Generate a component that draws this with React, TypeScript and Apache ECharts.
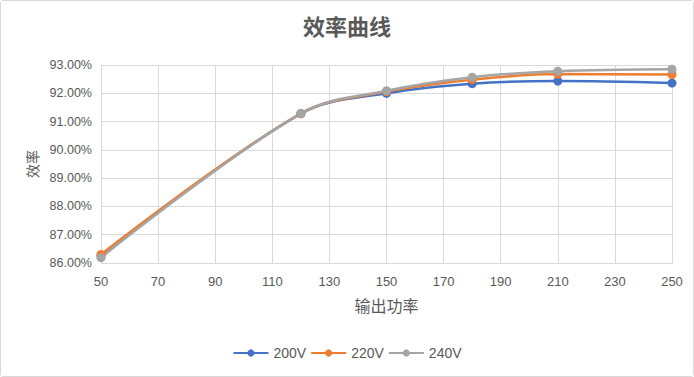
import React, { useEffect, useRef } from "react";
import * as echarts from "echarts";

const xValues = [50, 120, 150, 180, 210, 250];
const v200 = [86.25, 91.28, 92.0, 92.34, 92.43, 92.36];
const v220 = [86.3, 91.28, 92.06, 92.48, 92.68, 92.66];
const v240 = [86.19, 91.29, 92.09, 92.57, 92.78, 92.85];
const xTicks = [50, 70, 90, 110, 130, 150, 170, 190, 210, 230, 250];
const seriesNames = ["200V", "220V", "240V"];
const colors = ["#4472C4", "#ED7D31", "#A5A5A5"];

const FONT = "'Liberation Sans', 'Noto Sans CJK SC', sans-serif";
const CJK = "'Noto Sans CJK SC', sans-serif";

export default function App() {
  const ref = useRef<HTMLDivElement>(null);
  useEffect(() => {
    if (!ref.current) return;
    const chart = echarts.init(ref.current, null, { renderer: "svg" });
    const all = [v200, v220, v240];
    chart.setOption({
      animation: false,
      backgroundColor: "#ffffff",
      title: {
        text: "效率曲线",
        left: "center",
        top: 8,
        textStyle: { fontFamily: CJK, fontSize: 22, fontWeight: "bold", color: "#595959" },
      },
      legend: {
        bottom: 11,
        left: "center",
        itemWidth: 35,
        itemHeight: 9,
        itemGap: 4,
        data: seriesNames,
        textStyle: { fontFamily: FONT, fontSize: 14, color: "#595959" },
      },
      grid: { left: 100, right: 21, top: 64, bottom: 113, containLabel: false },
      xAxis: {
        type: "value",
        min: 50,
        max: 250,
        name: "输出功率",
        nameLocation: "middle",
        nameGap: 34,
        nameTextStyle: { fontFamily: CJK, fontSize: 16, color: "#595959" },
        axisLine: { show: true, lineStyle: { color: "#d9d9d9", width: 1 } },
        axisTick: { show: false, customValues: xTicks },
        axisLabel: {
          customValues: xTicks,
          fontFamily: FONT,
          fontSize: 13,
          color: "#595959",
          margin: 12,
        },
        splitLine: { show: true, lineStyle: { color: "#d9d9d9", width: 1 } },
      },
      yAxis: {
        type: "value",
        min: 86,
        max: 93,
        interval: 1,
        name: "效率",
        nameLocation: "middle",
        nameRotate: 90,
        nameGap: 62,
        nameTextStyle: { fontFamily: CJK, fontSize: 14, color: "#595959" },
        axisLine: { show: true, lineStyle: { color: "#d9d9d9", width: 1 } },
        axisTick: { show: false },
        axisLabel: {
          fontFamily: FONT,
          fontSize: 12.5,
          color: "#595959",
          margin: 9,
          formatter: (v: number) => v.toFixed(2) + "%",
        },
        splitLine: { show: true, lineStyle: { color: "#d9d9d9", width: 1 } },
      },
      series: seriesNames.map((name, i) => ({
        name,
        type: "line",
        smooth: 0.35,
        symbol: "circle",
        symbolSize: 9,
        itemStyle: { color: colors[i] },
        lineStyle: { color: colors[i], width: 2.5 },
        data: xValues.map((x, j) => [x, all[i][j]]),
      })),
    });
    return () => chart.dispose();
  }, []);
  return (
    <div
      ref={ref}
      style={{
        position: "absolute",
        left: 0,
        top: 0,
        width: 694,
        height: 377,
        boxSizing: "border-box",
        border: "1px solid #d9d9d9",
        borderRadius: 3,
      }}
    />
  );
}
